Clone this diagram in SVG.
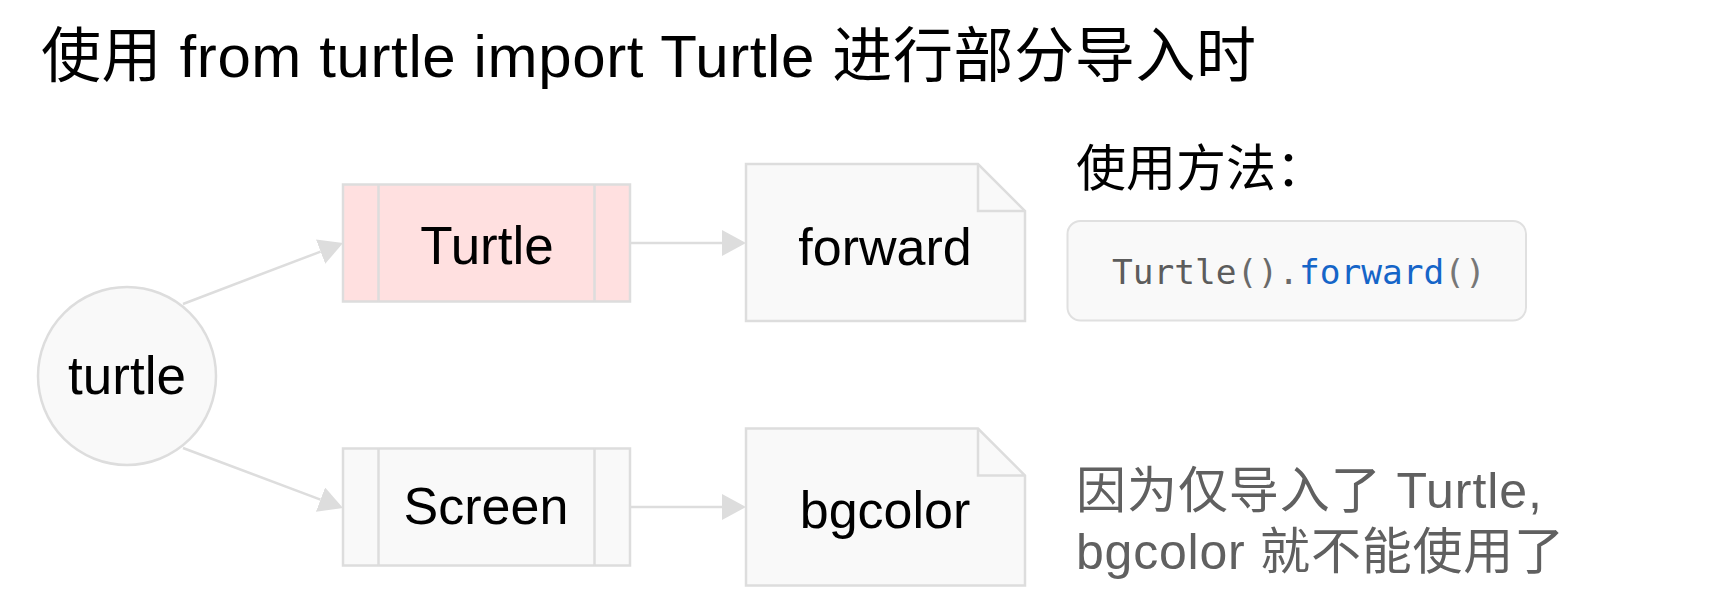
<svg xmlns="http://www.w3.org/2000/svg" width="1733" height="614" viewBox="0 0 1733 614">
  <style>
    .lbl { font-family: "Liberation Sans", "Noto Sans CJK SC", sans-serif; fill: #000; }
    .node { stroke: #dddddd; stroke-width: 2.5; }
    .plain { fill: #f9f9f9; }
    .hl { fill: #ffe0e0; }
    .edge { stroke: #dddddd; stroke-width: 2.5; fill: none; }
    .code { font-family: "DejaVu Sans Mono", "Liberation Mono", monospace; font-size: 34.5px; }
    .note { font-family: "Liberation Sans", "Noto Sans CJK SC", sans-serif; font-size: 50px; fill: #606060; }
  </style>
  <defs>
    <marker id="arrow" markerUnits="userSpaceOnUse" markerWidth="26" markerHeight="28" refX="0" refY="13" orient="auto">
      <path d="M0,0 L24,13 L0,26 z" fill="#dddddd"/>
    </marker>
  </defs>

  <text id="title" class="lbl" x="41" y="77" font-size="60" textLength="1215" lengthAdjust="spacing">使用 from turtle import Turtle 进行部分导入时</text>

  <g id="connectors">
    <path class="edge" d="M183,304 L320.6,251.6" marker-end="url(#arrow)"/>
    <path class="edge" d="M183,448 L320.5,499.6" marker-end="url(#arrow)"/>
    <path class="edge" d="M630,243 L722,243" marker-end="url(#arrow)"/>
    <path class="edge" d="M630,507 L722,507" marker-end="url(#arrow)"/>
  </g>

  <g id="node-turtle-module">
    <circle class="node plain" cx="127" cy="376" r="89"/>
    <text class="lbl" x="127" y="394" font-size="53" text-anchor="middle">turtle</text>
  </g>

  <g id="node-Turtle">
    <rect class="node hl" x="343" y="184.5" width="287" height="117"/>
    <line class="node" x1="378.5" y1="184.5" x2="378.5" y2="301.5"/>
    <line class="node" x1="594.5" y1="184.5" x2="594.5" y2="301.5"/>
    <text class="lbl" x="487" y="264" font-size="53" text-anchor="middle">Turtle</text>
  </g>

  <g id="node-Screen">
    <rect class="node plain" x="343" y="448.5" width="287" height="117"/>
    <line class="node" x1="378.5" y1="448.5" x2="378.5" y2="565.5"/>
    <line class="node" x1="594.5" y1="448.5" x2="594.5" y2="565.5"/>
    <text class="lbl" x="486" y="524" font-size="52" text-anchor="middle">Screen</text>
  </g>

  <g id="node-forward">
    <path class="node plain" d="M746,164 L978,164 L1025,211 L1025,321 L746,321 Z"/>
    <path class="node" fill="none" d="M978,164 L978,211 L1025,211"/>
    <text class="lbl" x="885" y="265" font-size="52" text-anchor="middle">forward</text>
  </g>

  <g id="node-bgcolor">
    <path class="node plain" d="M746,428.5 L978,428.5 L1025,475.5 L1025,585.5 L746,585.5 Z"/>
    <path class="node" fill="none" d="M978,428.5 L978,475.5 L1025,475.5"/>
    <text class="lbl" x="885" y="528" font-size="52" text-anchor="middle">bgcolor</text>
  </g>

  <g id="usage">
    <text class="lbl" x="1076" y="186" font-size="50">使用方法：</text>
    <rect x="1067.5" y="221" width="458.5" height="99.5" rx="13" ry="13" fill="#f9f9f9" stroke="#e0e0e0" stroke-width="2"/>
    <text class="code" x="1112" y="284"><tspan fill="#5c5c5c">Turtle</tspan><tspan fill="#6a6a6a">().</tspan><tspan fill="#1565c8">forward</tspan><tspan fill="#777777">()</tspan></text>
  </g>

  <g id="remark">
    <text class="note" x="1076" y="508" textLength="466" lengthAdjust="spacing">因为仅导入了 Turtle,</text>
    <text class="note" x="1076" y="569" textLength="488" lengthAdjust="spacing">bgcolor 就不能使用了</text>
  </g>
</svg>
